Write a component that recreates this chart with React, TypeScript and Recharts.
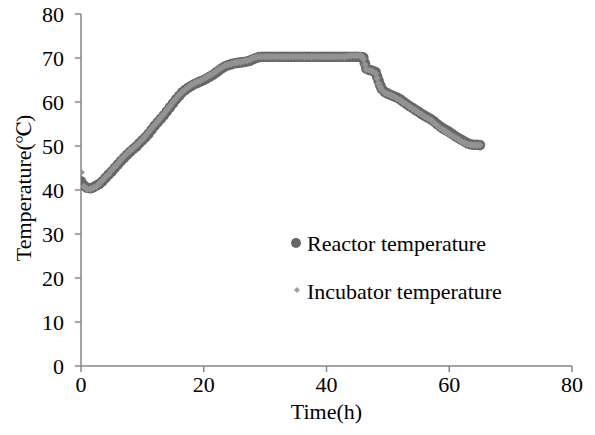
import React from 'react';
import { ScatterChart, Scatter, XAxis, YAxis, Legend, Label } from 'recharts';

const hours = [
  0, 0.5, 1, 1.5, 2, 2.5, 3, 3.5, 4, 4.5,
  5, 5.5, 6, 6.5, 7, 7.5, 8, 8.5, 9, 9.5,
  10, 10.5, 11, 11.5, 12, 12.5, 13, 13.5, 14, 14.5,
  15, 15.5, 16, 16.5, 17, 17.5, 18, 18.5, 19, 19.5,
  20, 20.5, 21, 21.5, 22, 22.5, 23, 23.5, 24, 24.5,
  25, 25.5, 26, 26.5, 27, 27.5, 28, 28.5, 29, 29.5,
  30, 30.5, 31, 31.5, 32, 32.5, 33, 33.5, 34, 34.5,
  35, 35.5, 36, 36.5, 37, 37.5, 38, 38.5, 39, 39.5,
  40, 40.5, 41, 41.5, 42, 42.5, 43, 43.5, 44, 44.5,
  45, 45.5, 45.75, 46, 46.25, 46.5, 47, 47.5, 48, 48.25, 48.5, 48.75, 49, 49.5,
  50, 50.5, 51, 51.5, 52, 52.5, 53, 53.5, 54, 54.5,
  55, 55.5, 56, 56.5, 57, 57.5, 58, 58.5, 59, 59.5,
  60, 60.5, 61, 61.5, 62, 62.5, 63, 63.5, 64, 64.5,
  65,
];

const reactorTemp = [
  42.0, 41.0, 40.5, 40.4, 40.6, 41.0, 41.4, 42.0, 42.8, 43.5,
  44.2, 45.0, 45.8, 46.6, 47.3, 48.0, 48.7, 49.3, 49.9, 50.6,
  51.3, 52.0, 52.8, 53.7, 54.6, 55.4, 56.2, 57.0, 57.9, 58.8,
  59.7, 60.6, 61.4, 62.2, 62.8, 63.3, 63.7, 64.1, 64.4, 64.7,
  65.0, 65.4, 65.8, 66.2, 66.7, 67.2, 67.7, 68.1, 68.4, 68.6,
  68.8, 68.9, 69.0, 69.1, 69.2, 69.4, 69.7, 70.0, 70.2, 70.3,
  70.3, 70.3, 70.3, 70.3, 70.3, 70.3, 70.3, 70.3, 70.3, 70.3,
  70.3, 70.3, 70.3, 70.3, 70.3, 70.3, 70.3, 70.3, 70.3, 70.3,
  70.3, 70.3, 70.3, 70.3, 70.3, 70.3, 70.3, 70.3, 70.3, 70.3,
  70.3, 70.2, 70.2, 70.1, 68.8, 67.6, 67.3, 67.1, 66.8, 65.8, 64.8, 63.8, 63.0, 62.3,
  61.9, 61.6, 61.3, 61.0, 60.6, 60.1, 59.6, 59.1, 58.7, 58.2,
  57.8, 57.3, 56.9, 56.5, 56.1, 55.6, 55.0, 54.5, 54.0, 53.6,
  53.2, 52.7, 52.2, 51.8, 51.4, 51.0, 50.6, 50.4, 50.3, 50.3,
  50.2,
];

const incubatorTemp = [
  44.0, 40.8, 40.2, 40.2, 40.5, 40.8, 41.5, 42.2, 43.0, 43.6,
  44.5, 45.3, 46.0, 46.9, 47.6, 48.3, 49.0, 49.5, 50.1, 50.8,
  51.5, 52.3, 53.1, 54.0, 54.8, 55.6, 56.5, 57.3, 58.2, 59.1,
  60.0, 60.8, 61.6, 62.3, 62.9, 63.4, 63.9, 64.3, 64.6, 64.9,
  65.3, 65.7, 66.1, 66.5, 67.0, 67.5, 67.9, 68.3, 68.5, 68.7,
  68.9, 69.0, 69.1, 69.3, 69.4, 69.6, 70.0, 70.2, 70.3, 70.3,
  70.3, 70.3, 70.3, 70.3, 70.3, 70.3, 70.3, 70.3, 70.3, 70.3,
  70.3, 70.3, 70.3, 70.3, 70.3, 70.3, 70.3, 70.3, 70.3, 70.3,
  70.3, 70.3, 70.3, 70.3, 70.3, 70.3, 70.3, 70.4, 70.5, 70.5,
  70.5, 70.5, 70.4, 69.8, 68.5, 67.4, 67.2, 67.0, 66.5, 65.4, 64.2, 63.4, 62.8, 62.1,
  61.8, 61.5, 61.2, 60.8, 60.4, 59.9, 59.5, 59.0, 58.5, 58.1,
  57.6, 57.2, 56.7, 56.3, 55.9, 55.3, 54.7, 54.1, 53.7, 53.2,
  52.8, 52.3, 51.9, 51.5, 51.0, 50.7, 50.4, 50.3, 50.2, 50.2,
  50.2,
];

const xTicks = [0, 20, 40, 60, 80];
const yTicks = [0, 10, 20, 30, 40, 50, 60, 70, 80];
const seriesNames = ['Reactor temperature', 'Incubator temperature'];

const FONT =
  "'Liberation Serif', Tinos, 'Times New Roman', Times, 'Nimbus Roman', 'Nimbus Roman No9 L', FreeSerif, 'Noto Serif', 'Noto Serif CJK SC', 'DejaVu Serif', Georgia, serif";
const REACTOR_COLOR = '#676767';
const INCUBATOR_COLOR = '#939393';
const AXIS_COLOR = '#878787';

const reactorData = hours.map((h, i) => ({ x: h, y: reactorTemp[i] }));
const incubatorData = hours.map((h, i) => ({ x: h, y: incubatorTemp[i] }));

const CircleShape = (props: any) => {
  const { cx, cy } = props;
  if (cx == null || cy == null) return null;
  return <circle cx={cx} cy={cy} r={5.3} fill={REACTOR_COLOR} />;
};

const DiamondShape = (props: any) => {
  const { cx, cy } = props;
  if (cx == null || cy == null) return null;
  const s = 3.8;
  return (
    <polygon
      points={`${cx},${cy - s} ${cx + s},${cy} ${cx},${cy + s} ${cx - s},${cy}`}
      fill={INCUBATOR_COLOR}
    />
  );
};

const LegendContent = () => (
  <svg width={280} height={90} style={{ fontFamily: FONT }}>
    <circle cx={16} cy={20} r={5} fill={REACTOR_COLOR} />
    <text x={27} y={28} style={{ fontFamily: FONT, fontSize: 22 }} fill="#000">
      {seriesNames[0]}
    </text>
    <polygon points="17,64 20,67 17,70 14,67" fill="#a0a0a0" />
    <text x={27} y={76} style={{ fontFamily: FONT, fontSize: 22 }} fill="#000">
      {seriesNames[1]}
    </text>
  </svg>
);

const tickStyle = { fontFamily: FONT, fontSize: 22, fill: '#000' };

export default function App() {
  return (
    <div style={{ position: 'absolute', left: 0, top: 0, width: 595, height: 435, background: '#fff', fontFamily: FONT }}>
      <ScatterChart
        width={595}
        height={435}
        margin={{ top: 14, right: 23, bottom: 9, left: 21 }}
        style={{ fontFamily: FONT }}
      >
        <XAxis
          type="number"
          dataKey="x"
          domain={[0, 80]}
          ticks={xTicks}
          height={60}
          tickSize={6}
          tickMargin={4}
          stroke={AXIS_COLOR}
          strokeWidth={1.5}
          tick={tickStyle}
          allowDataOverflow
        >
          <Label
            content={(p: any) => {
              const vb = p.viewBox || {};
              const cx = vb.x + vb.width / 2;
              return (
                <text x={cx} y={419} textAnchor="middle" style={{ fontFamily: FONT, fontSize: 22 }} fill="#000">
                  Time(h)
                </text>
              );
            }}
          />
        </XAxis>
        <YAxis
          type="number"
          dataKey="y"
          domain={[0, 80]}
          ticks={yTicks}
          width={60}
          tickSize={6}
          tickMargin={11}
          stroke={AXIS_COLOR}
          strokeWidth={1.5}
          tick={tickStyle}
          allowDataOverflow
        >
          <Label
            content={(p: any) => {
              const vb = p.viewBox || {};
              const x = vb.x + 10;
              const y = vb.y + vb.height / 2 - 2;
              return (
                <text
                  x={x}
                  y={y}
                  transform={`rotate(-90 ${x} ${y})`}
                  textAnchor="middle"
                  style={{ fontFamily: FONT, fontSize: 22 }}
                  fill="#000"
                >
                  Temperature(℃)
                </text>
              );
            }}
          />
        </YAxis>
        <Legend
          layout="horizontal"
          verticalAlign="middle"
          align="center"
          content={LegendContent}
          wrapperStyle={{ left: 280, top: 223, width: 280, height: 90 }}
        />
        <Scatter
          name={seriesNames[0]}
          data={reactorData}
          fill={REACTOR_COLOR}
          shape={CircleShape}
          isAnimationActive={false}
        />
        <Scatter
          name={seriesNames[1]}
          data={incubatorData}
          fill={INCUBATOR_COLOR}
          shape={DiamondShape}
          isAnimationActive={false}
        />
      </ScatterChart>
    </div>
  );
}
